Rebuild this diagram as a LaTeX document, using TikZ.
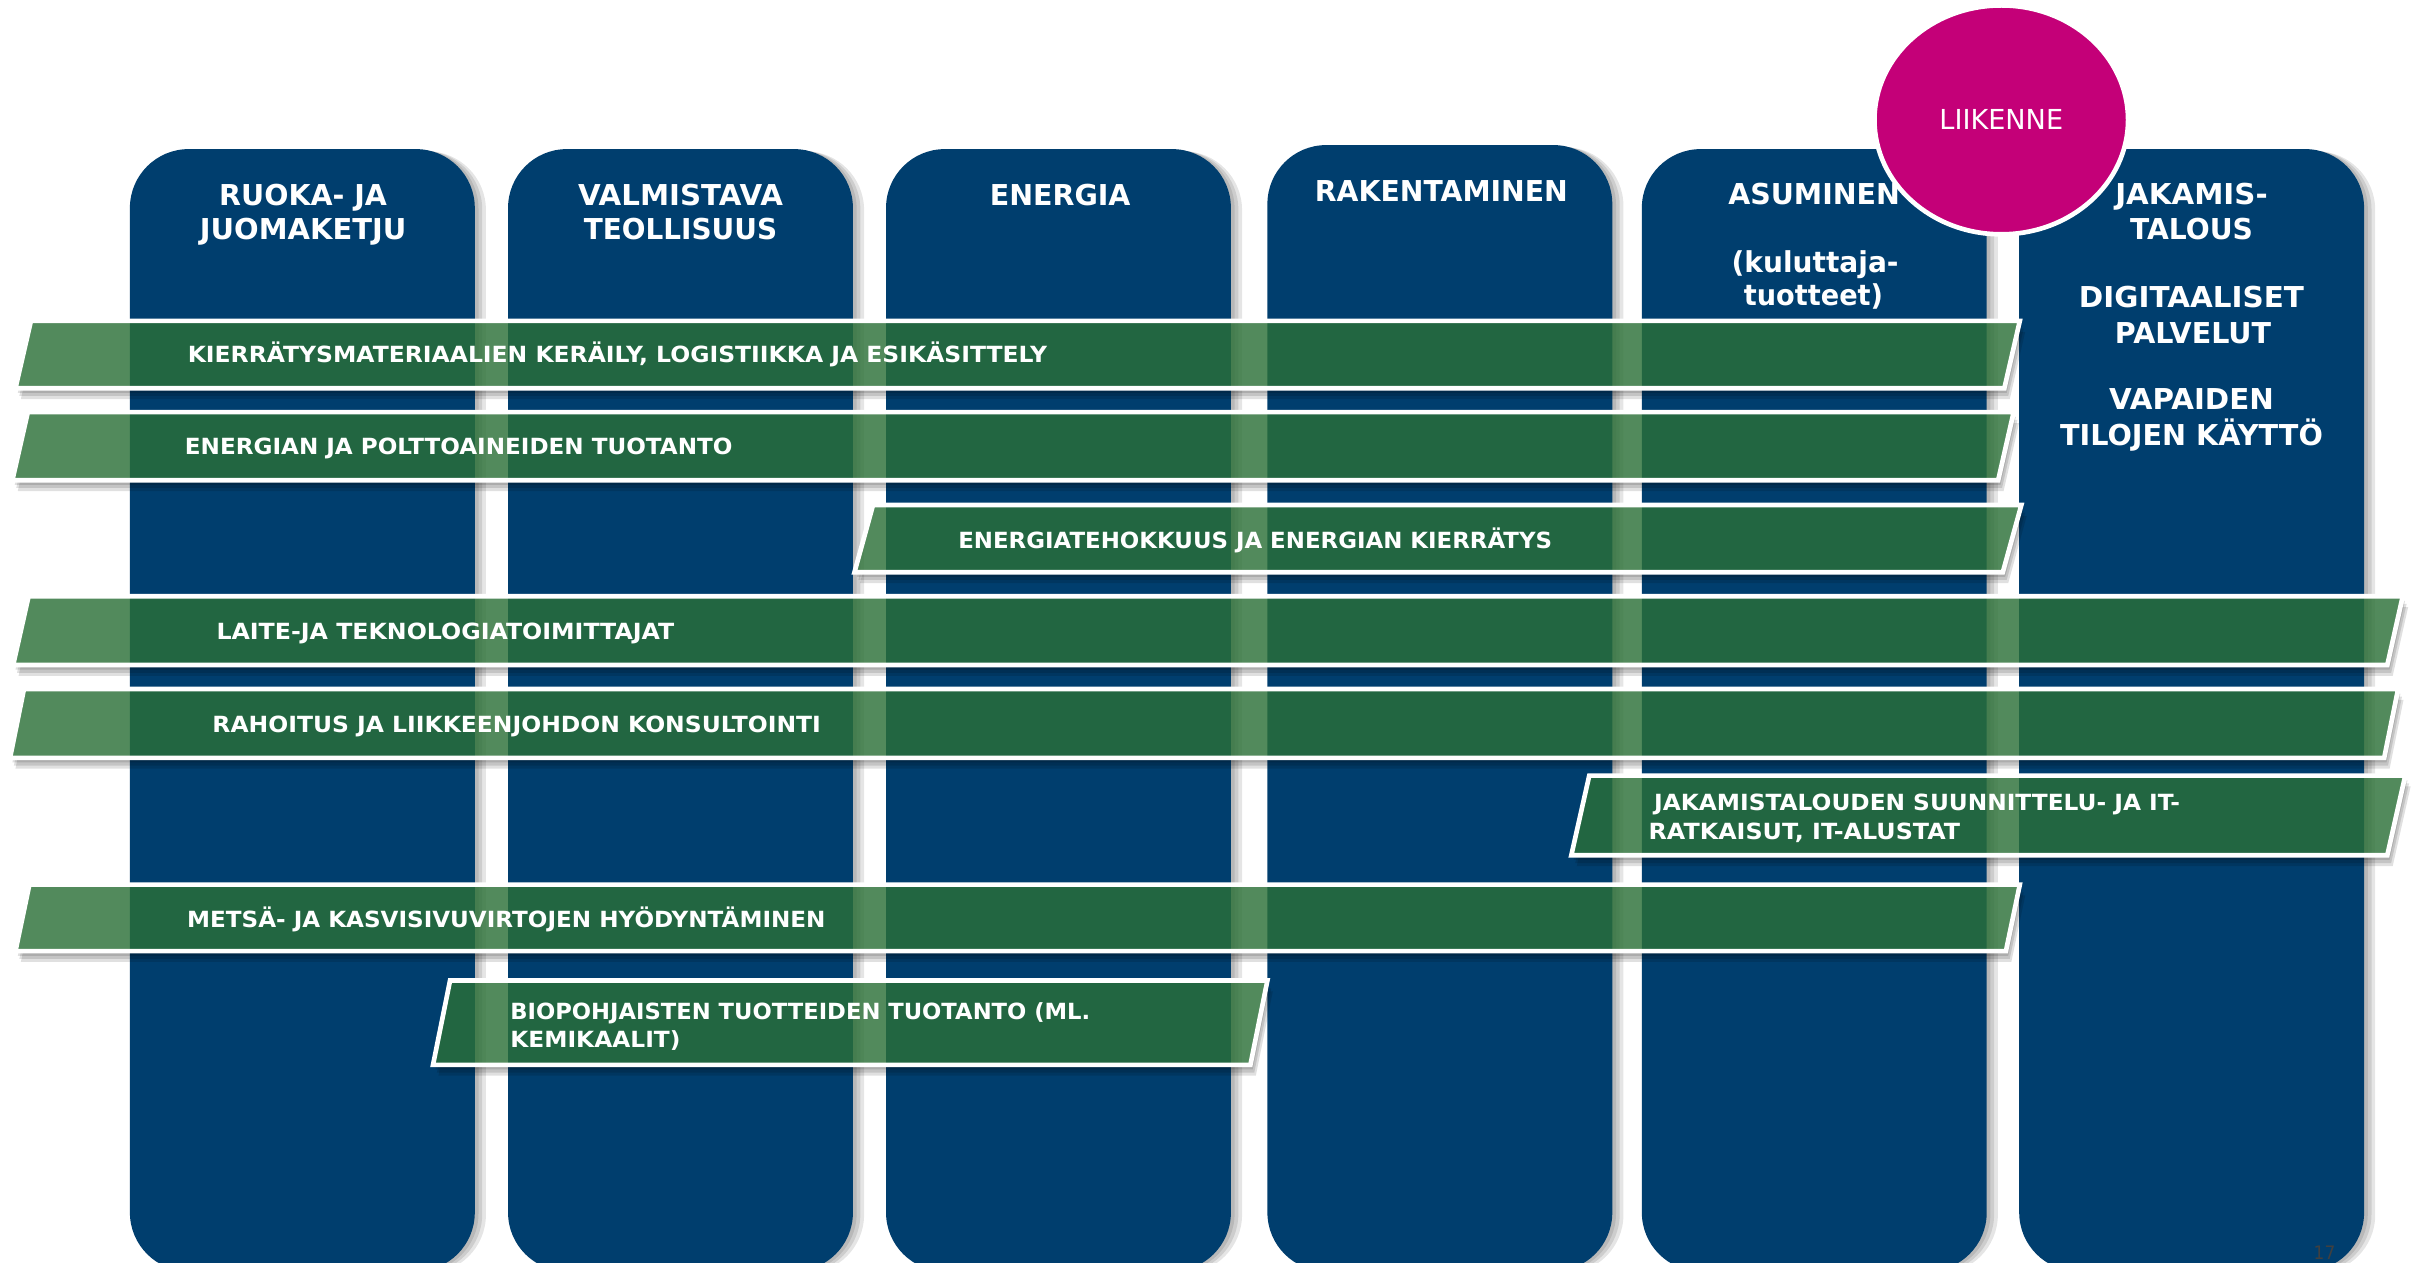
\documentclass[tikz,border=0pt]{standalone}
\usepackage{fontspec}
\setmainfont{DejaVu Sans}
\usepackage{graphicx}
\usetikzlibrary{shapes.geometric,shadows}
\definecolor{colblue}{RGB}{0,62,110}
\definecolor{bandgreen}{RGB}{43,112,55}
\definecolor{liikcol}{RGB}{196,0,120}
\newlength\unitpx \setlength\unitpx{0.5pt}
\newcommand\fw[2]{\resizebox{#1\unitpx}{\height}{#2}}
% xl, slant, ytop, ybottom, xr
\newcommand\drawband[5]{%
  \begin{scope}[even odd rule]
    \clip (-50,-50) rectangle (1650,900) (#1,#4) -- (#1+#2,#3) -- (#5+#2,#3) -- (#5,#4) -- cycle;
    \foreach \d in {3,5,7}{%
      \fill[bandshadow, shift={(0.5*\d,\d)}] (#1,#4) -- (#1+#2,#3) -- (#5+#2,#3) -- (#5,#4) -- cycle;}
  \end{scope}
  \draw[bandbox] (#1,#4) -- (#1+#2,#3) -- (#5+#2,#3) -- (#5,#4) -- cycle;
}
\begin{document}
\begin{tikzpicture}[x=0.5pt,y=-0.5pt,
  colbox/.style={rectangle, rounded corners=19pt, fill=colblue, minimum width=111.5pt,
    inner sep=0pt, outer sep=0pt, anchor=north,
    general shadow={fill=black, opacity=0.10, shadow xshift=1.2pt, shadow yshift=-0.3pt},
    general shadow={fill=black, opacity=0.10, shadow xshift=2.4pt, shadow yshift=-0.5pt},
    general shadow={fill=black, opacity=0.10, shadow xshift=3.6pt, shadow yshift=-0.7pt}},
  bandbox/.style={fill=bandgreen, fill opacity=0.81, draw=white, line width=1.5pt, line join=miter},
  bandshadow/.style={fill=black, opacity=0.12},
  hdr/.style={text=white, font=\fontsize{9.3}{11}\selectfont\bfseries, inner sep=0pt, outer sep=0pt, anchor=base},
  btxt/.style={text=white, font=\fontsize{7.2}{9}\selectfont\bfseries, inner sep=0pt, outer sep=0pt, anchor=base west},
  liik/.style={ellipse, fill=liikcol, draw=white, line width=1.5pt, minimum width=82pt, minimum height=74pt,
    inner sep=0pt, text=white, font=\fontsize{8.9}{10}\selectfont}]
\useasboundingbox (0,0) rectangle (1568,816);
\fill[white] (0,0) rectangle (1568,816);

% columns
\node[colbox, minimum height=362.8pt] (c1) at (195.5,96.4) {};
\node[colbox, minimum height=362.8pt] (c2) at (440,96.4) {};
\node[colbox, minimum height=362.8pt] (c3) at (684.4,96.4) {};
\node[colbox, minimum height=364.1pt] (c4) at (931,93.8) {};
\node[colbox, minimum height=362.8pt] (c5) at (1173.1,96.4) {};
\node[colbox, minimum height=362.8pt] (c6) at (1417.1,96.4) {};

% headers
\node[hdr] (h1a) at (196,133) {\fw{108.5}{RUOKA- JA}};
\node[hdr] (h1b) at (196,155) {\fw{133.5}{JUOMAKETJU}};
\node[hdr] (h2a) at (440,133) {\fw{132.5}{VALMISTAVA}};
\node[hdr] (h2b) at (440,155) {\fw{125}{TEOLLISUUS}};
\node[hdr] (h3) at (685.5,133) {\fw{91}{ENERGIA}};
\node[hdr] (h4) at (932,130.4) {\fw{163.5}{RAKENTAMINEN}};
\node[hdr] (h5a) at (1173,132.5) {\fw{111}{ASUMINEN}};
\node[hdr] (h5b) at (1173.6,176) {\fw{108}{(kuluttaja-}};
\node[hdr] (h5c) at (1172.6,197.5) {\fw{90}{tuotteet)}};
\node[hdr] (h6a) at (1417,132.5) {\fw{98.5}{JAKAMIS-}};
\node[hdr] (h6b) at (1417,155) {\fw{79.5}{TALOUS}};
\node[hdr] (h6c) at (1417,198.5) {\fw{145.5}{DIGITAALISET}};
\node[hdr] (h6d) at (1418,222) {\fw{101}{PALVELUT}};
\node[hdr] (h6e) at (1417,265) {\fw{106.5}{VAPAIDEN}};
\node[hdr] (h6f) at (1417,288) {\fw{170}{TILOJEN KÄYTTÖ}};

% LIIKENNE
\node[liik] (liikenne) at (1294,77.5) {\fw{80}{LIIKENNE}};

% bands
\drawband{10}{10}{207.5}{251}{1296}
\drawband{8}{10}{266.5}{310.5}{1292}
\drawband{552.5}{12}{326.5}{370}{1295}
\drawband{8.5}{10}{385.5}{430}{1543.6}
\drawband{6.5}{9}{445.5}{490}{1541.6}
\drawband{1016}{11.6}{501.5}{553}{1543.6}
\drawband{10}{9}{572}{615}{1297}
\drawband{280}{11}{634}{688.5}{808.5}

% band texts
\node[btxt] (t1) at (121.4,234.5) {\fw{555.6}{KIERRÄTYSMATERIAALIEN KERÄILY, LOGISTIIKKA JA ESIKÄSITTELY}};
\node[btxt] (t2) at (119.6,294) {\fw{354}{ENERGIAN JA POLTTOAINEIDEN TUOTANTO}};
\node[btxt] (t3) at (619.6,354.5) {\fw{384}{ENERGIATEHOKKUUS JA ENERGIAN KIERRÄTYS}};
\node[btxt] (t4) at (140,413.4) {\fw{296}{LAITE-JA TEKNOLOGIATOIMITTAJAT}};
\node[btxt] (t5) at (137.4,473.7) {\fw{393.4}{RAHOITUS JA LIIKKEENJOHDON KONSULTOINTI}};
\node[btxt] (t6a) at (1069.6,524) {\fw{340}{JAKAMISTALOUDEN SUUNNITTELU- JA IT-}};
\node[btxt] (t6b) at (1066,543) {\fw{201.4}{RATKAISUT, IT-ALUSTAT}};
\node[btxt] (t7) at (121,600) {\fw{412.8}{METSÄ- JA KASVISIVUVIRTOJEN HYÖDYNTÄMINEN}};
\node[btxt] (t8a) at (330,659) {\fw{375}{BIOPOHJAISTEN TUOTTEIDEN TUOTANTO (ML.}};
\node[btxt] (t8b) at (330,677) {\fw{110}{KEMIKAALIT)}};

% slide number
\node[font=\fontsize{6}{7}\selectfont, text=black!75, anchor=base, inner sep=0pt] (pg) at (1503,814.5) {\fw{14}{17}};
\end{tikzpicture}
\end{document}
